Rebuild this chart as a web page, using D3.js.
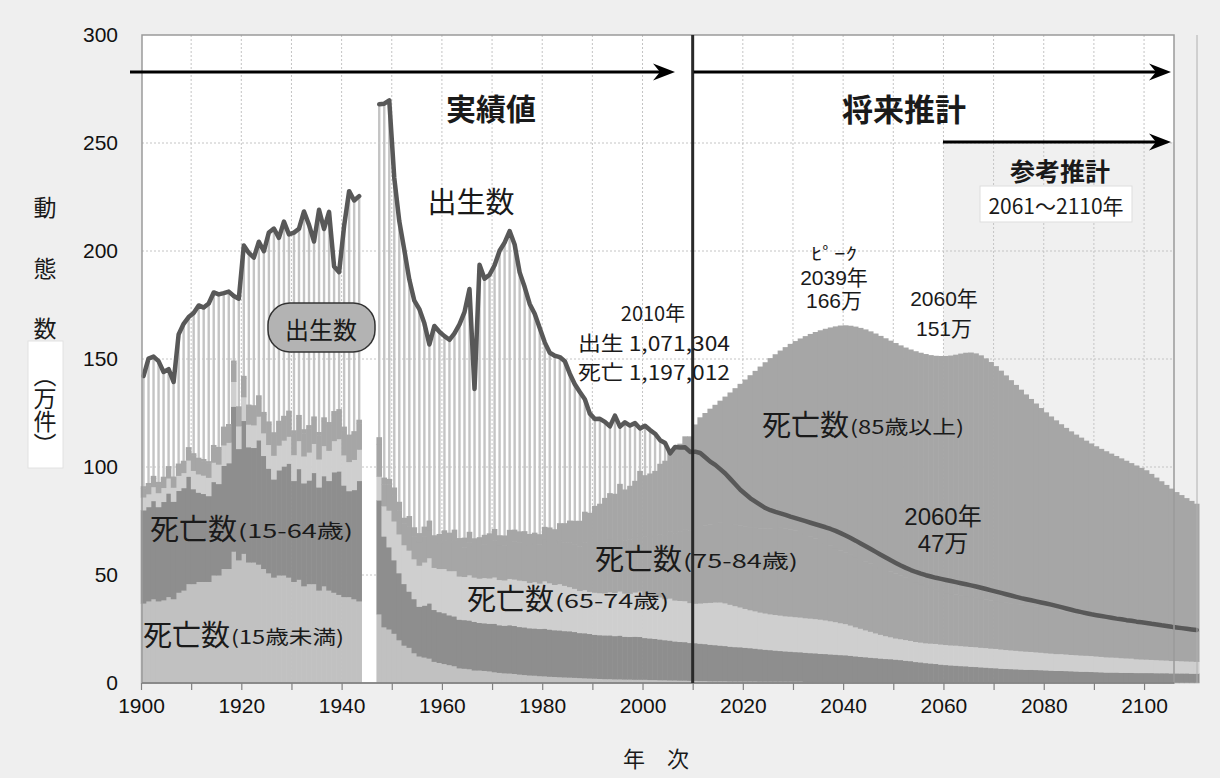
<!DOCTYPE html>
<html><head><meta charset="utf-8">
<script src="https://cdn.jsdelivr.net/npm/d3@7"></script>
<style>
body{margin:0;background:#efefef}
svg{display:block}
</style></head>
<body>
<svg id="chart" width="1220" height="778"></svg>
<script>
// ---------- DATA (万件), one value per year from 1900 to 2110; null = no data (1944-1946) ----------
const firstYear = 1900;
const lastYear = 2110;
const xTickYears = [1900,1920,1940,1960,1980,2000,2020,2040,2060,2080,2100];
const yTickValues = [0,50,100,150,200,250,300];

const births = [
142.1,150.2,151.1,149.0,144.0,145.3,139.4,161.4,166.3,169.4,
171.3,174.8,173.8,175.7,180.8,179.9,180.5,181.2,179.2,177.9,
202.6,199.1,196.9,204.3,199.9,208.6,210.4,206.1,213.6,207.7,
208.5,210.3,218.3,212.1,204.4,219.1,210.2,218.1,192.8,190.2,
211.6,227.7,223.4,225.4,null,null,null,267.9,268.2,269.7,
233.8,213.8,200.5,186.8,177.0,173.1,166.5,156.7,165.3,162.6,
160.6,158.9,161.9,166.0,171.7,182.4,136.1,193.6,187.2,189.0,
193.4,200.1,203.9,209.2,203.0,190.1,183.3,175.5,170.9,164.3,
157.7,152.9,151.5,150.9,149.0,143.2,138.3,134.7,131.4,124.7,
122.2,122.3,120.9,118.8,123.8,118.7,120.7,119.2,120.3,117.8,
119.1,117.1,115.4,112.4,111.1,106.3,109.3,109.0,109.1,107.0,
107.1,106.5,104.5,102.5,101.0,99.0,97.0,94.5,92.0,89.5,
87.5,85.5,84.0,82.5,81.0,80.0,79.2,78.5,77.8,77.0,
76.3,75.6,74.9,74.2,73.5,72.8,72.1,71.3,70.4,69.4,
68.3,67.1,65.9,64.6,63.3,62.0,60.7,59.4,58.1,56.8,
55.6,54.4,53.3,52.3,51.4,50.6,49.9,49.3,48.7,48.2,
47.7,47.2,46.7,46.2,45.7,45.2,44.7,44.1,43.5,42.9,
42.3,41.7,41.1,40.5,39.9,39.3,38.8,38.3,37.8,37.3,
36.8,36.3,35.7,35.1,34.5,33.9,33.3,32.8,32.3,31.8,
31.4,31.0,30.6,30.2,29.8,29.5,29.1,28.8,28.4,28.1,
27.8,27.4,27.1,26.7,26.4,26.0,25.7,25.4,25.1,24.8,
24.5];

const deathsTotal = [
91.1,92.6,95.9,93.1,95.5,100.4,95.6,101.6,102.9,109.2,
106.4,104.3,103.7,102.7,110.2,109.3,118.7,119.9,149.3,128.1,
142.2,128.9,128.6,133.2,125.5,121.1,116.1,121.4,123.7,126.1,
117.0,124.1,117.5,119.4,123.4,116.2,123.0,120.8,125.9,126.8,
118.7,115.0,116.6,121.9,null,null,null,113.8,95.1,94.5,
90.5,83.9,76.5,77.3,72.1,69.4,72.4,75.2,68.4,69.0,
70.7,69.6,71.0,67.1,67.3,70.0,67.0,67.5,68.6,69.3,
71.3,68.4,68.3,70.9,71.0,70.2,70.3,69.0,69.6,68.9,
72.3,72.0,71.2,74.0,74.0,75.2,75.1,75.1,79.3,78.8,
82.0,83.0,85.7,87.9,87.6,92.2,89.6,91.3,93.6,98.2,
96.2,97.0,98.2,101.5,102.9,108.4,108.4,110.8,114.2,114.2,
119.7,123.0,125.0,127.0,128.8,130.7,132.6,134.5,136.5,138.5,
140.5,142.5,144.5,146.5,148.5,150.4,152.2,153.9,155.5,157.0,
158.3,159.5,160.6,161.6,162.5,163.3,164.0,164.6,165.1,165.5,
165.6,165.4,165.0,164.4,163.7,162.8,161.8,160.7,159.6,158.5,
157.4,156.3,155.3,154.4,153.6,152.9,152.3,151.8,151.5,151.4,
151.4,151.6,152.0,152.5,152.9,153.0,152.6,151.7,150.3,148.6,
146.7,144.6,142.4,140.2,138.0,135.8,133.6,131.5,129.4,127.3,
125.3,123.4,121.6,119.8,118.1,116.5,115.0,113.6,112.2,110.9,
109.6,108.4,107.3,106.2,105.1,104.0,102.9,101.8,100.7,99.6,
98.5,96.8,95.1,93.4,91.7,90.0,88.4,87.0,85.6,84.3,
83.0];

const deathsUnder15 = [
37,38,39,38,38.5,40,39,42,43,46,
46,47,47,47,50,50,53,53,61,57,
60,56,56,55,53,51,49,50,50,49,
47,48,45,46,46,43,45,43,42,41,
40,40,39,38,null,null,null,32,26,25,
23,20,17.5,16.5,14,12.5,12,11.5,10,9.5,
9,8.5,8,7,6.8,6.6,6,6,5.8,5.6,
5.2,4.9,4.7,4.6,4.4,4.1,3.9,3.7,3.6,3.4,
3.3,3.1,3.0,2.9,2.8,2.7,2.6,2.5,2.4,2.3,
2.2,2.1,2.0,2.0,1.9,1.9,1.8,1.8,1.7,1.7,
1.7,1.6,1.6,1.5,1.5,1.4,1.4,1.3,1.3,1.2,
1.2,1.1,1.1,1.0,1.0,1.0,1.0,0.9,0.9,0.9,
0.9,0.9,0.9,0.8,0.8,0.8,0.8,0.8,0.8,0.8,
0.8,0.8,0.7,0.7,0.7,0.7,0.7,0.7,0.7,0.7,
0.7,0.7,0.6,0.6,0.6,0.6,0.6,0.6,0.6,0.6,
0.6,0.6,0.6,0.6,0.5,0.5,0.5,0.5,0.5,0.5,
0.5,0.5,0.5,0.5,0.5,0.5,0.5,0.5,0.5,0.5,
0.5,0.4,0.4,0.4,0.4,0.4,0.4,0.4,0.4,0.4,
0.4,0.4,0.4,0.4,0.4,0.4,0.4,0.4,0.4,0.4,
0.4,0.3,0.3,0.3,0.3,0.3,0.3,0.3,0.3,0.3,
0.3,0.3,0.3,0.3,0.3,0.3,0.3,0.3,0.3,0.3,
0.3];

const deaths15to64 = [
43.1,43.6,45.4,43.6,45.5,47.9,45.1,47.1,47.4,49.7,
43.9,41.3,40.7,39.7,43.2,42.3,47.7,48.9,67.1,51.5,
61.5,53.3,53.0,57.5,52.3,48.4,45.4,48.6,50.4,52.7,
46.7,51.2,47.6,47.9,51.4,47.7,50.9,50.7,55.7,57.1,
51.6,49.0,50.5,55.7,null,null,null,52.7,42.0,38.0,
34.0,31.0,28.5,26.0,25.0,23.0,24.0,25.5,24.0,23.5,
23.5,23.0,23.0,22.5,22.5,22.5,22.5,22.0,22.0,22.0,
22.4,22.0,22.0,22.3,22.2,22.0,22.0,21.8,21.8,21.8,
22.0,21.8,21.6,21.6,21.4,21.4,21.2,20.8,20.8,20.6,
20.3,20.2,20.2,20.2,20.0,20.2,19.8,19.7,19.9,19.8,
19.3,19.2,19.0,18.8,18.5,18.4,18.0,17.9,17.8,17.5,
17.4,17.3,17.1,16.9,16.7,16.5,16.3,16.1,15.9,15.8,
15.6,15.4,15.2,15.0,14.8,14.6,14.4,14.2,14.0,13.9,
13.7,13.6,13.5,13.3,13.2,13.0,12.9,12.7,12.6,12.4,
12.3,12.1,11.9,11.7,11.5,11.3,11.1,10.9,10.7,10.6,
10.4,10.2,9.9,9.7,9.4,9.2,8.9,8.7,8.5,8.2,
8.0,7.8,7.7,7.5,7.4,7.2,7.1,6.9,6.8,6.6,
6.5,6.4,6.3,6.2,6.1,6.0,5.9,5.9,5.8,5.7,
5.6,5.5,5.4,5.4,5.3,5.2,5.1,5.0,5.0,4.9,
4.8,4.8,4.7,4.7,4.7,4.6,4.6,4.6,4.5,4.5,
4.5,4.5,4.4,4.4,4.4,4.3,4.3,4.3,4.3,4.2,
4.2];

const deaths65to74 = [
6,6,6.5,6.5,6.5,7,6.5,7,7,7.5,
8.5,8.5,8.5,8.5,9,9,9.5,9.5,11.5,10.5,
11,10.5,10.5,11,10.5,11,11,11.5,12,12.5,
12,13,12.5,13,13.5,13,14,14,14.5,15,
14,13.5,14,14.5,null,null,null,11,14,17,
18,18,18,19,18.5,19,20,21,19.5,20,
20.5,20.5,21,20,20,21,20.5,20.5,21,21,
21.5,21,21,21.5,21.5,21.5,21.5,21,21.5,21,
22,21.5,21,21.5,21,20.5,20,19.5,20,19.5,
19.5,19.5,19.5,20,20,20.5,20,20,20.5,21,
20,19.5,19.5,19.5,19,19.5,19,19,19,18.5,
18.3,18.6,19.0,19.4,19.8,20.0,19.8,19.4,19.0,18.5,
18.0,17.6,17.3,17.0,16.8,16.6,16.5,16.4,16.3,16.2,
16.2,16.1,16.0,16.0,15.9,15.8,15.6,15.4,15.1,14.8,
14.5,14.0,13.5,13.0,12.5,12.0,11.5,11.0,10.6,10.2,
9.8,9.7,9.6,9.4,9.3,9.2,9.2,9.2,9.3,9.3,
9.3,9.3,9.3,9.3,9.2,9.2,9.2,9.1,9.1,9.0,
9.0,8.9,8.8,8.7,8.6,8.5,8.4,8.3,8.2,8.1,
8.0,7.9,7.8,7.8,7.7,7.6,7.6,7.5,7.4,7.4,
7.3,7.2,7.1,7.0,6.9,6.8,6.7,6.6,6.4,6.3,
6.2,6.1,6.1,6.0,5.9,5.8,5.8,5.7,5.6,5.6,
5.5];

const deaths75to84 = [
4,4,4,4,4,4.5,4,4.5,4.5,5,
7,6.5,6.5,6.5,7,7,7.5,7.5,8.5,8,
8.5,8,8,8.5,8.5,9.5,9.5,10,10,10.5,
10,10.5,10.5,11,11,11,11.5,11.5,12,12,
11.5,11,11.5,12,null,null,null,15,10,12,
12,11,10,11,10.5,11,12,13,11.5,12,
13,13,14,13,13.5,15,14.5,15,15.5,16,
17,16,16,17.5,17.5,17.5,18,17.5,18,18,
19.5,19.5,19,20,20,20.5,20.5,20.5,22,22,
23,23,24,24.5,24,25.5,24.5,25,25.5,27,
27,27.5,28,29,29.5,31,31,32,33,33.5,
35.0,35.4,35.8,36.2,36.6,37.0,37.2,37.4,37.6,37.8,
38.0,38.3,38.6,38.9,39.3,39.7,40.2,40.6,40.6,40.3,
40.0,39.4,38.8,38.0,37.2,36.4,35.6,34.9,34.2,33.6,
33.0,32.7,32.4,32.1,31.8,31.5,31.2,30.9,30.6,30.3,
30.0,29.4,28.8,28.2,27.6,27.0,26.4,25.8,25.2,24.6,
24.0,23.8,23.6,23.4,23.2,23.0,22.8,22.6,22.4,22.2,
22.0,21.9,21.8,21.7,21.6,21.5,21.4,21.3,21.2,21.1,
21.0,20.7,20.4,20.1,19.8,19.5,19.2,18.9,18.6,18.3,
18.0,17.8,17.6,17.4,17.2,17.0,16.8,16.6,16.4,16.2,
16.0,15.8,15.6,15.4,15.2,15.0,14.8,14.6,14.4,14.2,
14.0];

// ---------- LAYOUT ----------
const svg = d3.select("#chart");
const W = 1220, H = 778;
const plot = {left: 142, right: 1174, top: 35, bottom: 683};
const jp = "'Noto Sans CJK JP','Noto Sans',sans-serif";
const latin = "'Liberation Sans',Arial,sans-serif";
const latinJp = "'Liberation Sans','Noto Sans CJK JP',sans-serif";

const x = d3.scaleLinear().domain([firstYear, lastYear]).range([141, 1194.2]);
const y = d3.scaleLinear().domain([0, 300]).range([plot.bottom, plot.top]);

const years = d3.range(firstYear, lastYear + 1);
const rows = years.map((yr, i) => ({
  year: yr,
  births: births[i],
  total: deathsTotal[i],
  u15: deathsUnder15[i],
  a1564: deaths15to64[i],
  a6574: deaths65to74[i],
  a7584: deaths75to84[i],
  // 85歳以上 = the rest up to the total height
  a85: deathsTotal[i] == null ? null : +(deathsTotal[i] - deathsUnder15[i] - deaths15to64[i] - deaths65to74[i] - deaths75to84[i]).toFixed(1)
}));
const valid = rows.filter(r => r.total != null);

svg.append("rect").attr("width", W).attr("height", H).attr("fill", "#efefef");
svg.append("rect").attr("x", plot.left).attr("y", plot.top)
  .attr("width", plot.right - plot.left).attr("height", plot.bottom - plot.top).attr("fill", "#ffffff");
// reference-projection shaded zone (2061-2110)
svg.append("rect").attr("x", x(2060)).attr("y", 142)
  .attr("width", plot.right - x(2060)).attr("height", plot.bottom - 142).attr("fill", "#f0f0f0");

// grid
const grid = svg.append("g").attr("stroke", "#c4c4c4").attr("stroke-width", 1).attr("stroke-dasharray", "2,2");
grid.selectAll("line.v").data(d3.range(1910, 2101, 10)).join("line")
  .attr("x1", d => x(d)).attr("x2", d => x(d)).attr("y1", plot.top).attr("y2", plot.bottom);
grid.selectAll("line.h").data([50,100,150,200,250]).join("line")
  .attr("x1", plot.left).attr("x2", plot.right).attr("y1", d => y(d)).attr("y2", d => y(d));

// births thin bars (actual years)
const bw = 2.4;
svg.append("g").selectAll("rect").data(rows.filter(r => r.births != null && r.year <= 2010)).join("rect")
  .attr("x", d => x(d.year + 0.5) - bw / 2).attr("width", bw)
  .attr("y", d => y(d.births)).attr("height", d => y(0) - y(d.births))
  .attr("fill", "#c4c4c4");

// deaths stacked bars
const keys = ["u15", "a1564", "a6574", "a7584", "a85"];
const colors = {u15: "#c1c1c1", a1564: "#8e8e8e", a6574: "#cfcfcf", a7584: "#a6a6a6", a85: "#a6a6a6"};
const stacked = d3.stack().keys(keys)(valid);
svg.append("g").selectAll("g").data(stacked).join("g")
  .attr("fill", d => colors[d.key])
  .selectAll("rect").data(d => d).join("rect")
  .attr("x", d => x(d.data.year) - 0.3)
  .attr("width", d => x(d.data.year + 1) - x(d.data.year) + 0.6)
  .attr("y", d => y(d[1]))
  .attr("height", d => Math.max(0, y(d[0]) - y(d[1])) + 0.5);

// births line
const line = d3.line().defined(d => d.births != null)
  .x(d => x(d.year + 0.5)).y(d => y(d.births)).curve(d3.curveLinear);
svg.append("path").datum(rows).attr("d", line)
  .attr("fill", "none").attr("stroke", "#585858").attr("stroke-width", 4.5)
  .attr("stroke-linejoin", "round").attr("stroke-linecap", "round");

// frame
svg.append("rect").attr("x", plot.left).attr("y", plot.top)
  .attr("width", plot.right - plot.left).attr("height", plot.bottom - plot.top)
  .attr("fill", "none").attr("stroke", "#9a9a9a").attr("stroke-width", 1.5);
svg.append("line").attr("x1", 1197).attr("x2", 1197).attr("y1", plot.top).attr("y2", plot.bottom)
  .attr("stroke", "#b0b0b0").attr("stroke-width", 1);

// x axis
const xAxisG = svg.append("g").attr("transform", `translate(0,${plot.bottom})`)
  .call(d3.axisBottom(x).tickValues(d3.range(1900, 2101, 10)).tickSize(7).tickFormat(d => xTickYears.includes(d) ? d : ""));
xAxisG.select(".domain").attr("stroke", "#808080").attr("stroke-width", 1.5).attr("d", `M${plot.left},0H${plot.right}`);
xAxisG.selectAll(".tick line").attr("stroke", "#808080").attr("stroke-width", 1.2);
xAxisG.selectAll(".tick text").attr("font-family", latin).attr("font-size", 21).attr("fill", "#111").attr("dy", "0.95em");

// y axis labels
const yAxisG = svg.append("g").attr("transform", `translate(${plot.left},0)`)
  .call(d3.axisLeft(y).tickValues(yTickValues).tickSize(0).tickPadding(24));
yAxisG.select(".domain").remove();
yAxisG.selectAll(".tick text").attr("font-family", latin).attr("font-size", 21).attr("fill", "#111");

// 2010 divider
svg.append("line").attr("x1", x(2010)).attr("x2", x(2010)).attr("y1", plot.top).attr("y2", plot.bottom)
  .attr("stroke", "#2a2a2a").attr("stroke-width", 3);

// arrows
function arrow(x1, x2, yy) {
  svg.append("line").attr("x1", x1).attr("x2", x2 - 10).attr("y1", yy).attr("y2", yy)
    .attr("stroke", "#000").attr("stroke-width", 2.8);
  svg.append("path").attr("d", `M${x2},${yy} L${x2 - 22},${yy - 8.5} L${x2 - 15},${yy} L${x2 - 22},${yy + 8.5} Z`).attr("fill", "#000");
}
arrow(130, 675, 72);
arrow(x(2010) + 1, 1171, 72);
arrow(943, 1171, 142);

// text helper
function txt(s, xx, yy, size, opts = {}) {
  const t = svg.append("text").attr("x", xx).attr("y", yy).text(s)
    .attr("font-family", opts.family || jp).attr("font-size", size)
    .attr("font-weight", opts.weight || "normal").attr("fill", opts.fill || "#1a1a1a")
    .attr("text-anchor", opts.anchor || "middle").attr("dominant-baseline", "central");
  if (opts.len) t.attr("textLength", opts.len).attr("lengthAdjust", "spacingAndGlyphs");
  return t;
}

txt("実績値", 491, 107, 30, {weight: "bold"});
txt("将来推計", 904, 107, 31, {weight: "bold"});
txt("参考推計", 1060, 170, 25, {weight: "bold"});
svg.append("rect").attr("x", 980).attr("y", 186).attr("width", 152).attr("height", 36)
  .attr("fill", "#ffffff").attr("stroke", "#dddddd");
txt("2061～2110年", 1056, 205, 21);

txt("出生数", 471, 200, 29);
svg.append("rect").attr("x", 268).attr("y", 303).attr("width", 107).attr("height", 49).attr("rx", 22)
  .attr("fill", "#b3b3b3").attr("stroke", "#333").attr("stroke-width", 1.5);
txt("出生数", 321, 328, 24);

txt("2010年", 653, 312, 20);
txt("出生 1,071,304", 578, 342, 20, {anchor: "start", len: 152});
txt("死亡 1,197,012", 578, 371, 20, {anchor: "start", len: 152});

txt("ﾋﾟｰｸ", 834, 252, 17, {len: 46});
txt("2039年", 834, 277, 21, {family: latinJp});
txt("166万", 834, 300, 21, {family: latinJp});
txt("2060年", 944, 298, 21, {family: latinJp});
txt("151万", 944, 328, 21, {family: latinJp});

txt("2060年", 943, 516, 24, {family: latinJp});
txt("47万", 943, 543, 24, {family: latinJp});

function deathLabel(xx, yy, paren, parenLen) {
  txt("死亡数", xx, yy, 29, {anchor: "start", len: 87});
  txt(paren, xx + 88, yy + 2, 19, {anchor: "start", len: parenLen});
}
deathLabel(762, 423, "(85歳以上)", 114);
deathLabel(595, 557, "(75-84歳)", 115);
deathLabel(467, 597, "(65-74歳)", 114);
deathLabel(150, 527, "(15-64歳)", 115);
deathLabel(143, 633, "(15歳未満)", 113);

// y-axis title
txt("動", 45, 206, 23);
txt("態", 45, 267, 23);
txt("数", 45, 327, 23);
svg.append("rect").attr("x", 28).attr("y", 341).attr("width", 35).attr("height", 127).attr("fill", "#ffffff").attr("stroke", "#e2e2e2");
svg.append("text").attr("x", 45).attr("y", 410).text("（万件）")
  .attr("font-family", jp).attr("font-size", 23).attr("fill", "#1a1a1a")
  .attr("text-anchor", "middle").style("writing-mode", "vertical-rl");

// x-axis title
txt("年　次", 656, 757, 22);
</script>
</body></html>
